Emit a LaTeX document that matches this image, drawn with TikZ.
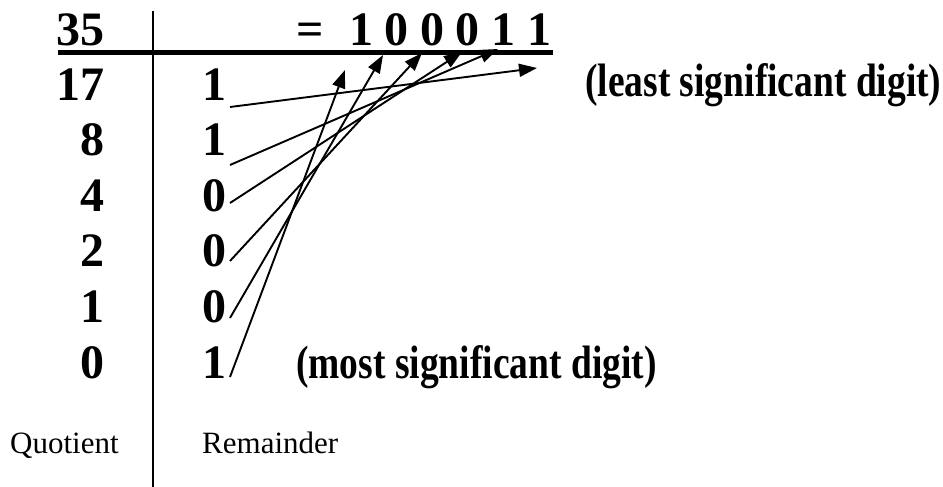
\documentclass[tikz,border=0pt]{standalone}
\usepackage{fontspec}
\usepackage{graphicx}
\setmainfont{Liberation Serif}
\usetikzlibrary{arrows.meta}
\newcommand{\tallnote}[1]{\scalebox{1}[1.25]{#1}}

\begin{document}
\begin{tikzpicture}[
  x=1pt, y=-1pt,
  bigdigit/.style={font=\fontsize{48}{50}\selectfont\bfseries, inner sep=0pt},
  note/.style={font=\fontsize{37.5}{40}\selectfont\bfseries,
               inner sep=0pt, anchor=base west},
  caption/.style={font=\fontsize{31}{33}\selectfont, inner sep=0pt, anchor=base west},
  link/.style={-{Triangle[length=18pt, width=13pt]}, line width=1.9pt},
  rule/.style={line width=2pt}
]
  \useasboundingbox (0,0) rectangle (943,487);

  % ── Table rules ────────────────────────────────────────────────────────────
  \draw[rule] (153,11) -- (153,487);
  \draw[line width=5pt] (58,53) -- (553,53);

  % ── Number and its binary form ─────────────────────────────────────────────
  \node[bigdigit, anchor=base east] (num) at (105,46) {35};
  \node[bigdigit, anchor=base west] (eq) at (296,46) {=};
  \foreach \d [count=\i from 0] in {1,0,0,0,1,1}
    \node[bigdigit, anchor=base] (b\i) at ({361+35.6*\i},46) {\d};

  % ── Quotients and remainders ───────────────────────────────────────────────
  \foreach \q/\r [count=\i from 0] in {17/1, 8/1, 4/0, 2/0, 1/0, 0/1} {
    \node[bigdigit, anchor=base east] (q\i) at (105,{100+55.6*\i}) {\q};
    \node[bigdigit, anchor=base] (r\i) at (214,{100+55.6*\i}) {\r};
  }

  % ── Arrows: remainder -> binary digit ──────────────────────────────────────
  \foreach \i/\sy/\tx/\ty in {0/107/537/68, 1/165/498/49, 2/203/462/52,
                              3/261/422/53, 4/318/383/55, 5/377/345/70} {
    \coordinate (from\i) at (230,\sy);
    \coordinate (tip\i) at (\tx,\ty);
    \draw[link] (from\i) -- (tip\i);
  }

  % ── Annotations ────────────────────────────────────────────────────────────
  \node[note] (lsd) at (585,96) {\tallnote{(least significant digit)}};
  \node[note] (msd) at (296,378) {\tallnote{(most significant digit)}};

  % ── Column captions ────────────────────────────────────────────────────────
  \node[caption] (quot) at (10,453) {Quotient};
  \node[caption] (rem) at (202,453) {Remainder};
\end{tikzpicture}
\end{document}
